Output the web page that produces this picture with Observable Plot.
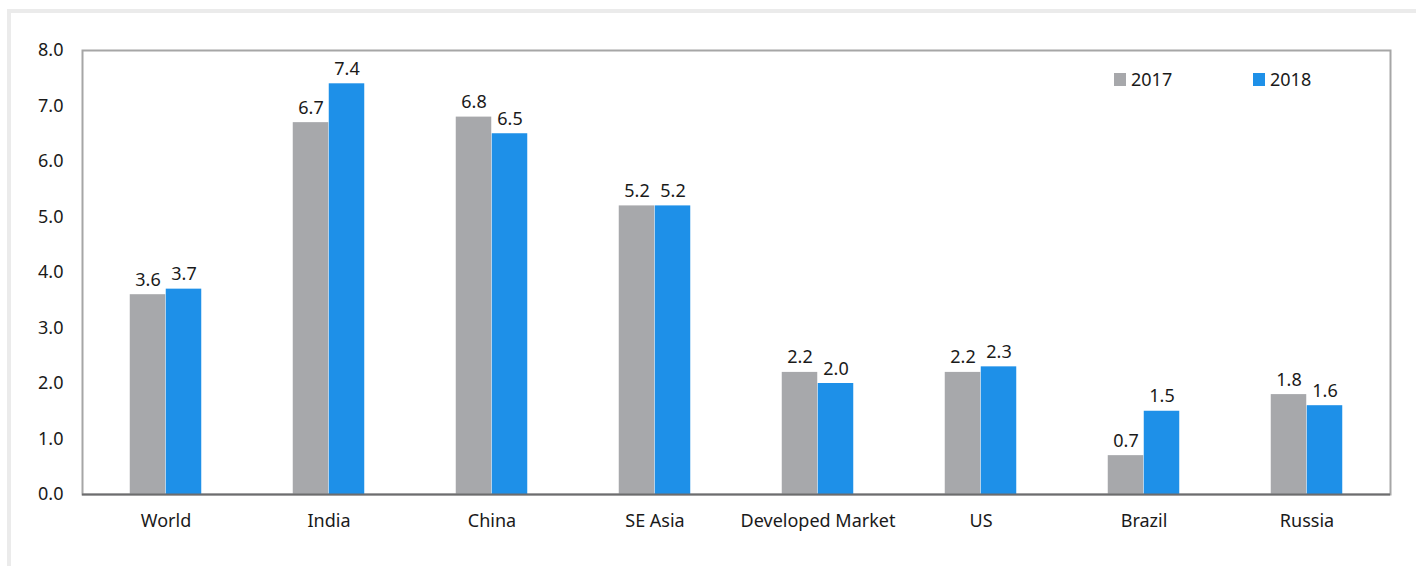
<!DOCTYPE html>
<html>
<head>
<meta charset="utf-8">
<script src="https://cdn.jsdelivr.net/npm/d3@7"></script>
<script src="https://cdn.jsdelivr.net/npm/@observablehq/plot@0.6"></script>
<style>
  html, body { margin: 0; padding: 0; background: #fff; }
  #wrap { position: relative; width: 1416px; height: 566px; overflow: hidden; font-family: "Noto Sans", sans-serif; }
  #outer { position: absolute; left: 7px; top: 9px; width: 1420px; height: 600px; border: 4px solid #ebebeb; box-sizing: border-box; pointer-events: none; }
  #legend .item { position: absolute; top: 67px; display: flex; align-items: center; font-size: 18px; color: #1a1a1a; }
  #legend .sw { width: 12px; height: 13px; margin-right: 5px; }
</style>
</head>
<body>
<div id="wrap">
  <div id="chart"></div>
  <div id="outer"></div>
  <div id="legend"></div>
</div>
<script>
const categories = ["World", "India", "China", "SE Asia", "Developed Market", "US", "Brazil", "Russia"];
const series = ["2017", "2018"];
const values2017 = [3.6, 6.7, 6.8, 5.2, 2.2, 2.2, 0.7, 1.8];
const values2018 = [3.7, 7.4, 6.5, 5.2, 2.0, 2.3, 1.5, 1.6];
const yTicks = [0, 1, 2, 3, 4, 5, 6, 7, 8];
const colors = ["#a7a8ab", "#1e90e8"];

const data = [];
categories.forEach((c, i) => {
  data.push({cat: c, year: series[0], value: values2017[i]});
  data.push({cat: c, year: series[1], value: values2018[i]});
});

const W = 1416, H = 566;
const ml = 82, mr = 26, mt = 50, mb = 72;
const bw = (W - ml - mr) / categories.length;
const barW = 36;
const half = bw / 2;

const d17 = data.filter(d => d.year === series[0]);
const d18 = data.filter(d => d.year === series[1]);

const chart = Plot.plot({
  width: W,
  height: H,
  marginLeft: ml,
  marginRight: mr,
  marginTop: mt,
  marginBottom: mb,
  style: { fontFamily: "Noto Sans, sans-serif", fontSize: "18px", color: "#1a1a1a", background: "transparent" },
  x: { domain: categories, padding: 0, label: null, tickSize: 0, tickPadding: 20 },
  y: { domain: [0, 8], ticks: yTicks, tickFormat: d3.format(".1f"), label: null, tickSize: 0, tickPadding: 19 },
  marks: [
    Plot.frame({ stroke: "#a6a6a6", strokeWidth: 2 }),
    Plot.barY(d17, { x: "cat", y: "value", fill: colors[0], insetLeft: half - barW, insetRight: half }),
    Plot.barY(d18, { x: "cat", y: "value", fill: colors[1], insetLeft: half, insetRight: half - barW }),
    Plot.ruleY([0], { stroke: "#6d6d6e", strokeWidth: 2 }),
    Plot.text(d17, { x: "cat", y: "value", text: d => d3.format(".1f")(d.value), dx: -barW / 2, dy: -9, lineAnchor: "bottom", fill: "#1a1a1a", fontSize: 18 }),
    Plot.text(d18, { x: "cat", y: "value", text: d => d3.format(".1f")(d.value), dx: barW / 2, dy: -9, lineAnchor: "bottom", fill: "#1a1a1a", fontSize: 18 })
  ]
});
document.getElementById("chart").appendChild(chart);

const legend = document.getElementById("legend");
const legendLeft = [1114, 1253];
series.forEach((s, i) => {
  const item = document.createElement("div");
  item.className = "item";
  item.style.left = legendLeft[i] + "px";
  const sw = document.createElement("div");
  sw.className = "sw";
  sw.style.background = colors[i];
  const t = document.createElement("span");
  t.textContent = s;
  item.appendChild(sw);
  item.appendChild(t);
  legend.appendChild(item);
});
</script>
</body>
</html>
